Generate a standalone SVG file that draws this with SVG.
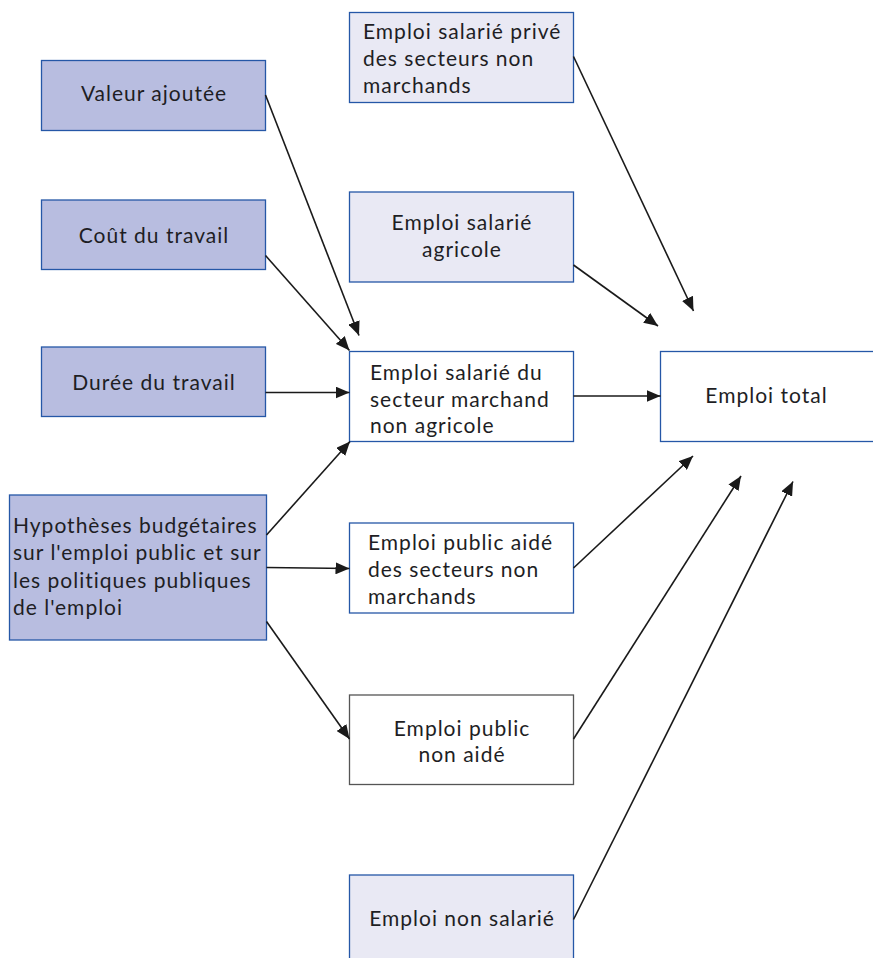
<svg xmlns="http://www.w3.org/2000/svg" width="873" height="958" viewBox="0 0 873 958">
<defs>
<style>
.dark{fill:#b8bde0;stroke:#2557a7;stroke-width:1.3}
.light{fill:#e9e9f4;stroke:#2557a7;stroke-width:1.3}
.white{fill:#ffffff;stroke:#2557a7;stroke-width:1.3}
.gray{fill:#ffffff;stroke:#555555;stroke-width:1.3}
text{font-family:Lato,"Noto Sans","Liberation Sans",sans-serif;font-size:21px;letter-spacing:1px;fill:#1e1e24}
.c{text-anchor:middle}
.conn line{stroke:#1a1a1a;stroke-width:1.6;marker-end:url(#ah)}
</style>
<marker id="ah" markerUnits="userSpaceOnUse" markerWidth="14" markerHeight="12" viewBox="0 0 14 12" refX="14" refY="6" orient="auto">
<path d="M0,0 L14,6 L0,12 Z" fill="#1a1a1a"/>
</marker>
</defs>
<rect width="873" height="958" fill="#ffffff"/>

<g id="valeur">
<rect class="dark" x="41.5" y="60.5" width="224" height="70"/>
<text class="c" x="154" y="101">Valeur ajoutée</text>
</g>
<g id="cout">
<rect class="dark" x="41.5" y="200" width="224" height="69.5"/>
<text class="c" x="154" y="242.5">Coût du travail</text>
</g>
<g id="duree">
<rect class="dark" x="41.5" y="347" width="224" height="69.5"/>
<text class="c" x="154" y="390">Durée du travail</text>
</g>
<g id="hypotheses">
<rect class="dark" x="9.5" y="495" width="257" height="145"/>
<text x="13" y="533">Hypothèses budgétaires</text>
<text x="13" y="560">sur l'emploi public et sur</text>
<text x="13" y="587.5">les politiques publiques</text>
<text x="13" y="614.5">de l'emploi</text>
</g>
<g id="prive">
<rect class="light" x="349.5" y="12.5" width="224" height="90"/>
<text x="363" y="39">Emploi salarié privé</text>
<text x="363" y="66">des secteurs non</text>
<text x="363" y="93">marchands</text>
</g>
<g id="agricole">
<rect class="light" x="349.5" y="192" width="224" height="90"/>
<text class="c" x="462" y="230">Emploi salarié</text>
<text class="c" x="462" y="256.5">agricole</text>
</g>
<g id="marchand">
<rect class="white" x="349.5" y="351.5" width="224" height="90"/>
<text x="370" y="380">Emploi salarié du</text>
<text x="370" y="406.5">secteur marchand</text>
<text x="370" y="433">non agricole</text>
</g>
<g id="total">
<rect class="white" x="660.5" y="351.5" width="215" height="90"/>
<text class="c" x="766.5" y="402.5">Emploi total</text>
</g>
<g id="publicaide">
<rect class="white" x="349.5" y="523" width="224" height="90"/>
<text x="368" y="550">Emploi public aidé</text>
<text x="368" y="577">des secteurs non</text>
<text x="368" y="604">marchands</text>
</g>
<g id="publicnonaide">
<rect class="gray" x="349.5" y="695" width="224" height="89.5"/>
<text class="c" x="462" y="735.5">Emploi public</text>
<text class="c" x="462" y="761.5">non aidé</text>
</g>
<g id="nonsalarie">
<rect class="light" x="349.5" y="875" width="224" height="90"/>
<text class="c" x="462" y="926">Emploi non salarié</text>
</g>

<g id="connectors" class="conn">
<line x1="265.5" y1="95" x2="359" y2="335.5"/>
<line x1="265.5" y1="255.5" x2="349.5" y2="350.5"/>
<line x1="265.5" y1="392.5" x2="349.5" y2="392.5"/>
<line x1="266.5" y1="535" x2="350" y2="441.5"/>
<line x1="266.5" y1="567.5" x2="349.5" y2="568.5"/>
<line x1="266.5" y1="621.5" x2="349.5" y2="739"/>
<line x1="573.5" y1="56.5" x2="693.5" y2="311"/>
<line x1="573.5" y1="265" x2="658" y2="326"/>
<line x1="573.5" y1="396" x2="660.5" y2="396"/>
<line x1="573.5" y1="568" x2="693" y2="456"/>
<line x1="573.5" y1="739" x2="741" y2="476"/>
<line x1="573.5" y1="919.5" x2="793" y2="481.5"/>
</g>
</svg>
